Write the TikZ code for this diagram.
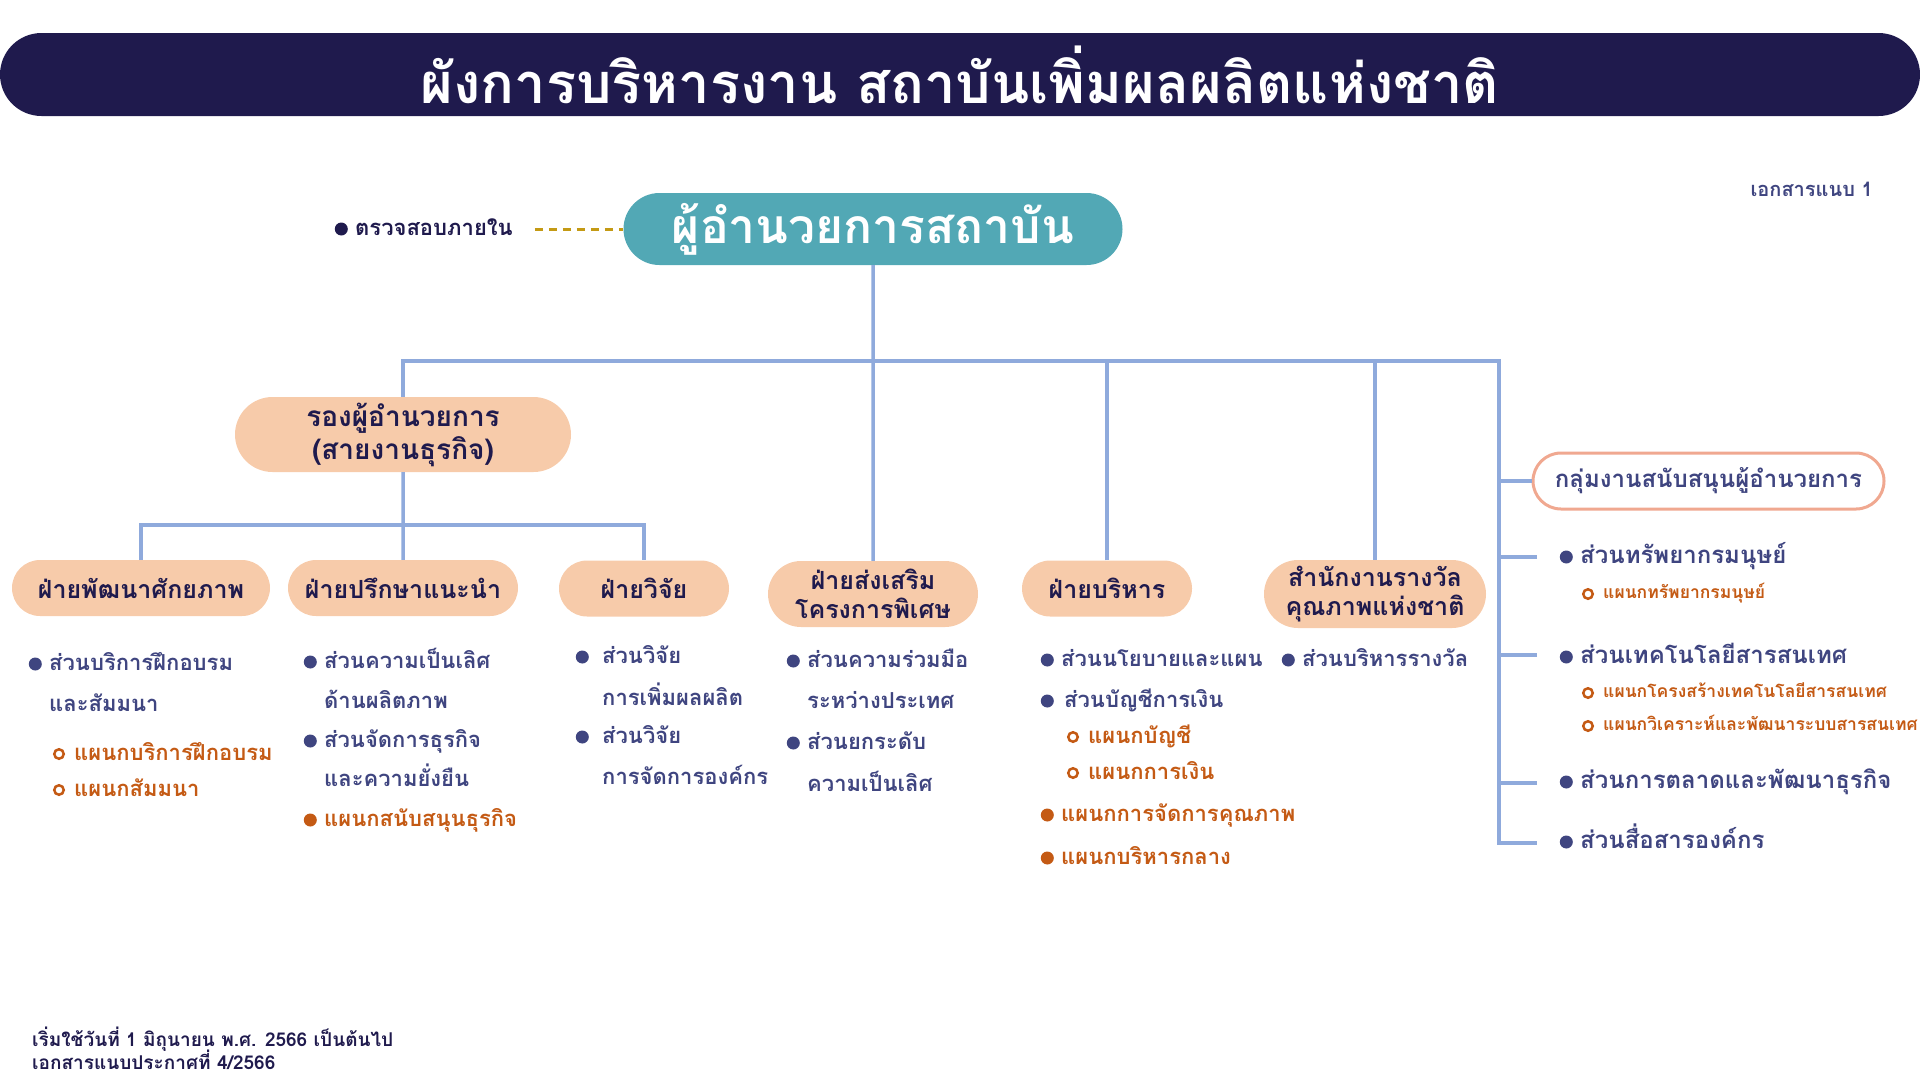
\documentclass[tikz,border=0pt]{standalone}
\usepackage{fontspec}
\newfontfamily\thaifont[Script=Thai]{Loma}
\usetikzlibrary{positioning, shapes.misc}
\definecolor{navy}{HTML}{1F1A4D}
\definecolor{dirteal}{HTML}{52A8B5}
\definecolor{peach}{HTML}{F7CBAA}
\definecolor{itemblue}{HTML}{3F4580}
\definecolor{rust}{HTML}{C45A14}
\definecolor{linkblue}{HTML}{8FAADC}
\definecolor{gold}{HTML}{C49A14}
\definecolor{salmon}{HTML}{F0A890}
\newcommand{\thfs}[2]{\thaifont\bfseries\fontsize{#1}{#2}\selectfont}
\tikzset{%
	banner/.style={rounded rectangle, fill=navy, text=white, minimum width=1920pt,%
		minimum height=83pt, inner sep=0pt, font=\thfs{56}{60}},
	boss/.style={rounded rectangle, fill=dirteal, text=white, minimum width=499pt,%
		minimum height=72pt, inner sep=0pt, font=\thfs{48}{52}},
	dept/.style={rounded rectangle, fill=peach, text=navy, align=center, inner sep=0pt,%
		minimum height=56pt, font=\thfs{25}{29}},
	grp/.style={rounded rectangle, draw=salmon, line width=3pt, text=itemblue, inner sep=0pt,%
		minimum width=351pt, minimum height=56pt, font=\thfs{24}{28}},
	txt/.style={anchor=west, inner sep=0pt, text depth=0pt, text height=12pt, font=\thfs{22}{26}},
	cont/.style={txt, text=itemblue},
	sec/.style={cont, label={[bul, label distance=#1]180:{}}},
	sec/.default=7pt,
	unit/.style={txt, text=rust, label={[ring, label distance=9pt]180:{}}},
	unitb/.style={txt, text=rust, label={[bul, fill=rust, label distance=7pt]180:{}}},
	big/.style={font=\thfs{24}{28}, text height=13pt},
	small/.style={font=\thfs{17.5}{21}, text height=9.5pt},
	bul/.style={circle, fill=itemblue, minimum size=13pt, inner sep=0pt},
	ring/.style={circle, draw=rust, line width=2.5pt, minimum size=9.5pt, inner sep=0pt},
	link/.style={draw=linkblue, line width=3.5pt},
	audlink/.style={draw=gold, line width=3pt, dash pattern=on 8pt off 6pt, shorten <=22pt}
}
\begin{document}
\begin{tikzpicture}[x=1pt, y=-1pt]
	\useasboundingbox (0,0) rectangle (1920,1080);
	\node[banner] (head) at (960,74.5) {ผังการบริหารงาน สถาบันเพิ่มผลผลิตแห่งชาติ};
	\node[boss] (boss) at (873,229) {ผู้อำนวยการสถาบัน};
	\node[cont, text=navy, label={[bul, fill=navy, label distance=7pt]180:{}}] (audit) at (355,229) {ตรวจสอบภายใน};
	\node[cont, anchor=east, font=\thfs{20}{24}, text height=11pt] (doc) at (1873,191) {เอกสารแนบ 1};

	\node[dept, minimum width=336pt, minimum height=75pt, font=\thfs{28}{33}] (dep) at (403,434.5) {รองผู้อำนวยการ\\(สายงานธุรกิจ)};
	\node[dept, minimum width=258pt] (dev) at (141,588) {ฝ่ายพัฒนาศักยภาพ};
	\node[dept, minimum width=230pt] (adv) at (403,588) {ฝ่ายปรึกษาแนะนำ};
	\node[dept, minimum width=170pt] (res) at (644,588.5) {ฝ่ายวิจัย};
	\node[dept, minimum width=210pt, minimum height=66pt] (pro) at (873,594) {ฝ่ายส่งเสริม\\โครงการพิเศษ};
	\node[dept, minimum width=170pt] (adm) at (1107,588.5) {ฝ่ายบริหาร};
	\node[dept, minimum width=222pt, minimum height=68pt] (awd) at (1375,594) {สำนักงานรางวัล\\คุณภาพแห่งชาติ};
	\node[grp] (grp) at (1708.5,481) {กลุ่มงานสนับสนุนผู้อำนวยการ};

	\coordinate (hub) at (873,361);
	\coordinate (rtop) at (1499,361);
	\coordinate (rend) at (1537,843);
	\coordinate (dhub) at (403,525);
	\coordinate (r1) at (1537,557);
	\coordinate (r2) at (1537,655);
	\coordinate (r3) at (1537,783);

	\draw[audlink] (audit) -- (boss);
	\draw[link] (boss) -- (pro);
	\draw[link] (dep.north) |- (rtop) |- (rend);
	\draw[link] (adm.north) -- (adm.north |- hub);
	\draw[link] (awd.north) -- (awd.north |- hub);
	\draw[link] (grp.west) -- (grp.west -| rtop);
	\draw[link] (r1) -- (r1 -| rtop);
	\draw[link] (r2) -- (r2 -| rtop);
	\draw[link] (r3) -- (r3 -| rtop);
	\draw[link] (dep) -- (adv);
	\draw[link] (dev.north) |- (dhub) -| (res.north);

	\node[sec] (dev1) at (49,664) {ส่วนบริการฝึกอบรม};
	\node[cont] (dev2) at (49,705) {และสัมมนา};
	\node[unit] (dev3) at (74,754) {แผนกบริการฝึกอบรม};
	\node[unit] (dev4) at (74,790) {แผนกสัมมนา};

	\node[sec] (adv1) at (324,662) {ส่วนความเป็นเลิศ};
	\node[cont] (adv2) at (324,702) {ด้านผลิตภาพ};
	\node[sec] (adv3) at (324,741) {ส่วนจัดการธุรกิจ};
	\node[cont] (adv4) at (324,780) {และความยั่งยืน};
	\node[unitb] (adv5) at (324,820) {แผนกสนับสนุนธุรกิจ};

	\node[sec=13pt] (res1) at (602,657) {ส่วนวิจัย};
	\node[cont] (res2) at (602,699) {การเพิ่มผลผลิต};
	\node[sec=13pt] (res3) at (602,737) {ส่วนวิจัย};
	\node[cont] (res4) at (602,778) {การจัดการองค์กร};

	\node[sec] (pro1) at (807,661) {ส่วนความร่วมมือ};
	\node[cont] (pro2) at (807,702) {ระหว่างประเทศ};
	\node[sec] (pro3) at (807,743) {ส่วนยกระดับ};
	\node[cont] (pro4) at (807,785) {ความเป็นเลิศ};

	\node[sec] (adm1) at (1061,660) {ส่วนนโยบายและแผน};
	\node[sec=10pt] (adm2) at (1064,701) {ส่วนบัญชีการเงิน};
	\node[unit] (adm3) at (1088,737) {แผนกบัญชี};
	\node[unit] (adm4) at (1088,773) {แผนกการเงิน};
	\node[unitb] (adm5) at (1061,815) {แผนกการจัดการคุณภาพ};
	\node[unitb] (adm6) at (1061,858) {แผนกบริหารกลาง};

	\node[sec] (awd1) at (1302,660) {ส่วนบริหารรางวัล};

	\node[sec, big] (grp1) at (1580,557) {ส่วนทรัพยากรมนุษย์};
	\node[unit, small] (grp2) at (1603,594) {แผนกทรัพยากรมนุษย์};
	\node[sec, big] (grp3) at (1580,657) {ส่วนเทคโนโลยีสารสนเทศ};
	\node[unit, small] (grp4) at (1603,693) {แผนกโครงสร้างเทคโนโลยีสารสนเทศ};
	\node[unit, small] (grp5) at (1603,726) {แผนกวิเคราะห์และพัฒนาระบบสารสนเทศ};
	\node[sec, big] (grp6) at (1580,782) {ส่วนการตลาดและพัฒนาธุรกิจ};
	\node[sec, big] (grp7) at (1580,842) {ส่วนสื่อสารองค์กร};

	\node[cont, text=navy, font=\thfs{19}{23}, text height=10pt] (foot1) at (32,1041) {เริ่มใช้วันที่ 1 มิถุนายน พ.ศ. 2566 เป็นต้นไป};
	\node[cont, text=navy, font=\thfs{19}{23}, text height=10pt] (foot2) at (32,1064) {เอกสารแนบประกาศที่ 4/2566};
\end{tikzpicture}
\end{document}
